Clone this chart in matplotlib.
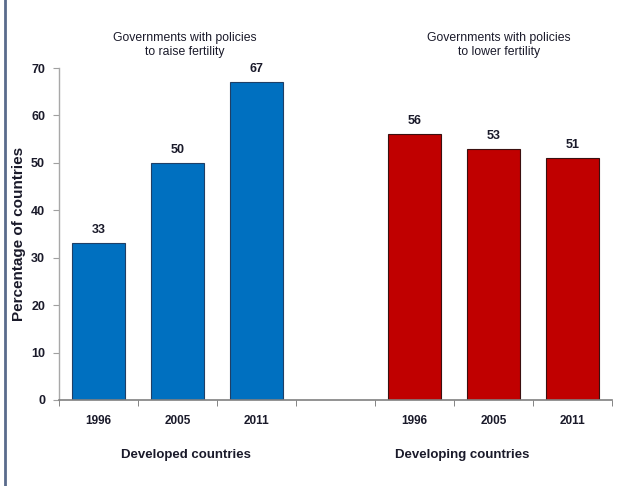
import matplotlib

matplotlib.use("Agg")

import matplotlib.pyplot as plt
from matplotlib.lines import Line2D
import numpy as np

plt.rcParams["font.family"] = ["Liberation Sans Narrow", "Liberation Sans", "DejaVu Sans"]

years = ["1996", "2005", "2011"]
raise_fertility = [33, 50, 67]   # developed countries
lower_fertility = [56, 53, 51]   # developing countries
groups = ["Developed countries", "Developing countries"]
panel_titles = ["Governments with policies\nto raise fertility",
                "Governments with policies\nto lower fertility"]

BLUE = "#0070C0"
RED = "#C00000"
TEXT = "#1a1a2a"

fig = plt.figure(figsize=(6.36, 4.86), dpi=100)
ax = fig.add_axes([0.0928, 0.177, 0.8695, 0.683])

left_x = np.arange(len(years))
right_x = np.arange(len(years)) + len(years) + 1

ax.bar(left_x, raise_fertility, width=0.68, color=BLUE, edgecolor="#1f3f66", linewidth=0.8, zorder=2)
ax.bar(right_x, lower_fertility, width=0.68, color=RED, edgecolor="#3a1010", linewidth=0.8, zorder=2)

for xs, vals in ((left_x, raise_fertility), (right_x, lower_fertility)):
    for x, v in zip(xs, vals):
        ax.text(x, v + 1.5, f"{v}", ha="center", va="bottom", fontsize=9,
                fontweight="bold", color=TEXT)

ax.set_xlim(-0.5, 6.5)
ax.set_ylim(0, 70)
ax.set_yticks(range(0, 71, 10))
ax.set_yticklabels([str(v) for v in range(0, 71, 10)], fontsize=9, fontweight="bold", color=TEXT)

ax.set_xticks(list(left_x) + list(right_x))
ax.set_xticklabels(years + years, fontsize=8.5, fontweight="bold", color=TEXT)
ax.tick_params(axis="x", which="major", length=0, pad=11)
ax.set_xticks(np.arange(-0.5, 7, 1), minor=True)
ax.tick_params(axis="x", which="minor", length=4, color="#707070", direction="out")
ax.tick_params(axis="y", length=4, color="#a0a0a0", pad=6)

for side in ("top", "right"):
    ax.spines[side].set_visible(False)
ax.spines["left"].set_color("#a8a8a8")
ax.spines["bottom"].set_color("#808080")
ax.spines["left"].set_linewidth(1.0)
ax.spines["bottom"].set_linewidth(1.2)

ax.set_ylabel("Percentage of countries", fontsize=11, fontweight="bold", color=TEXT)
ax.yaxis.set_label_coords(-0.06, 0.5)

# panel titles and group labels
fig.text(185 / 636, 1 - 45 / 486, panel_titles[0], ha="center", va="center",
         fontsize=8.8, color=TEXT, linespacing=1.2)
fig.text(499 / 636, 1 - 45 / 486, panel_titles[1], ha="center", va="center",
         fontsize=8.8, color=TEXT, linespacing=1.2)
fig.text(186 / 636, 1 - 455 / 486, groups[0], ha="center", va="center",
         fontsize=9.5, fontweight="bold", color=TEXT)
fig.text(462 / 636, 1 - 455 / 486, groups[1], ha="center", va="center",
         fontsize=9.5, fontweight="bold", color=TEXT)

# left border of the slide frame
fig.add_artist(Line2D([5 / 636, 5 / 636], [0, 1], transform=fig.transFigure,
                      color="#5a6b8c", linewidth=2))

fig.savefig("out.png", dpi=100)
